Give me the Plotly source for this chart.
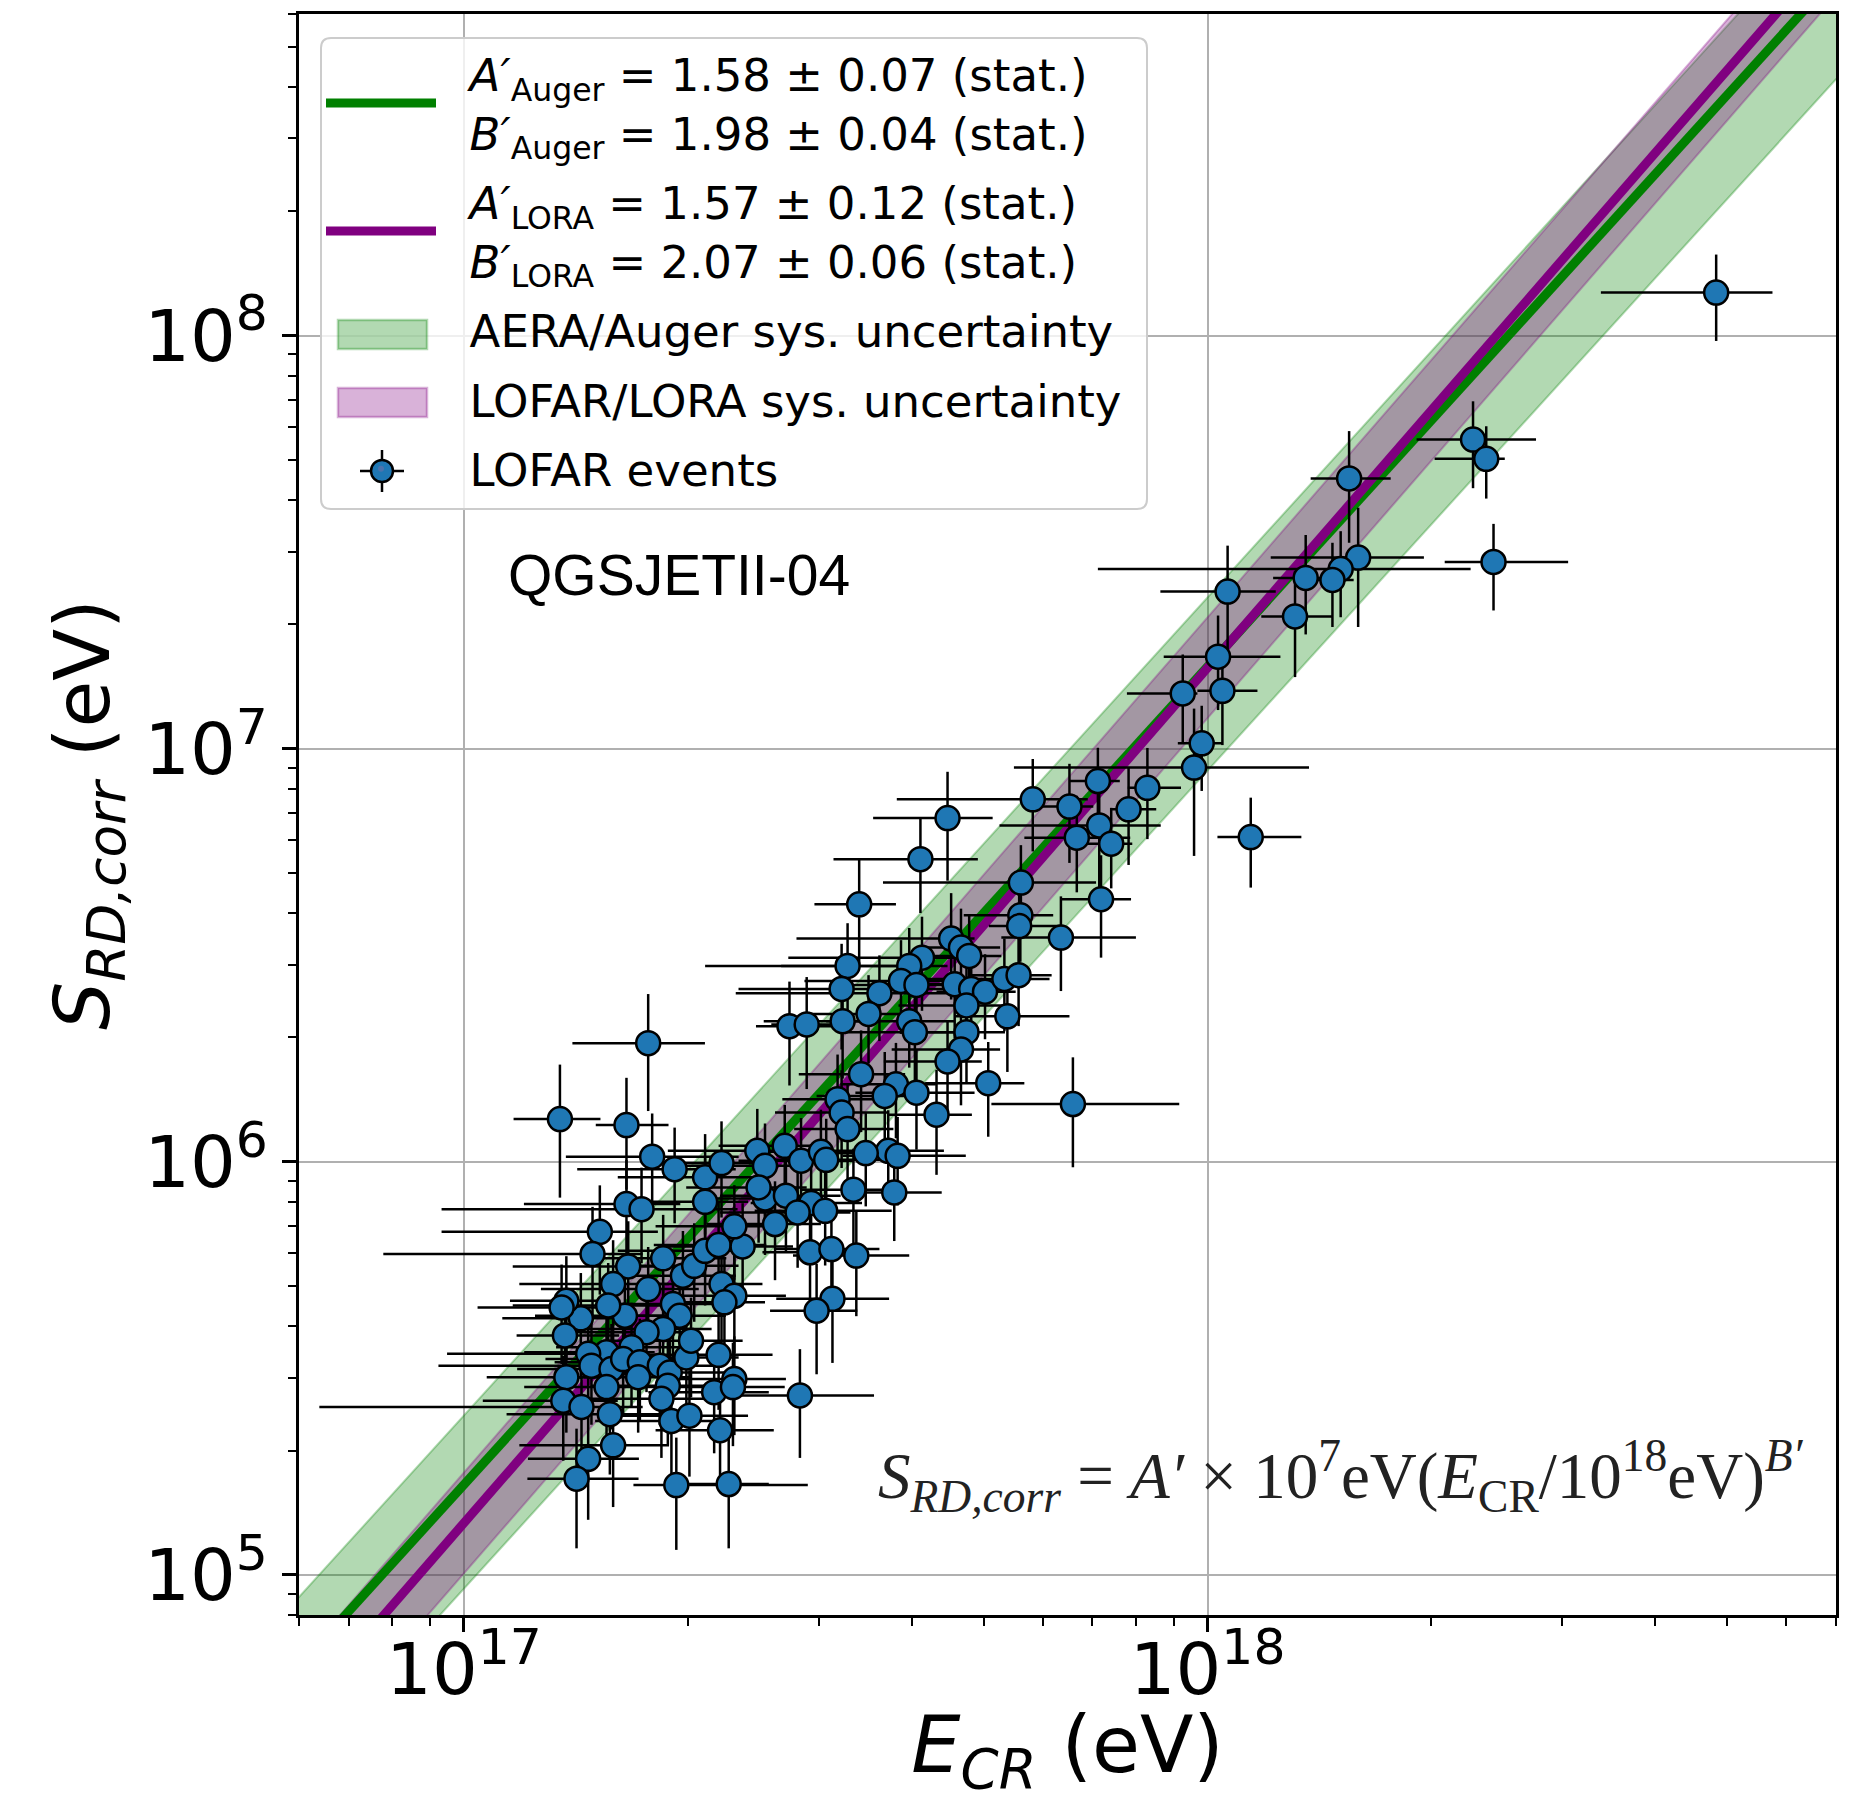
import numpy as np
import plotly.graph_objects as go

# ---- fit parameters: S = A' x 1e7 eV (E / 1e18 eV)^B' ----
A_AUGER, B_AUGER = 1.58, 1.98
A_LORA, B_LORA = 1.57, 2.07
AUGER_SYS_UP, AUGER_SYS_DN = 1.47, 0.56   # AERA/Auger systematic band (factor on S)
LORA_SYS_DEX = 0.122                      # LOFAR/LORA systematic band (+/- decades in S)

# ---- LOFAR events: energy in 1e17 eV, radiation energy in 1e6 eV ----
energy = [
    48.3, 22.75, 23.7, 24.24, 15.5, 15.94, 15.1, 14.72, 13.55, 13.11,
    10.64, 10.33, 9.26, 10.47, 9.82, 9.59, 11.43, 7.12, 8.30, 5.82,
    6.52, 7.83, 7.15, 6.67, 7.42, 4.47, 7.19, 6.35, 4.11, 5.61,
    5.60, 5.58, 4.52, 4.66, 4.78, 4.13, 3.97, 3.87, 4.06, 3.62,
    4.57, 4.81, 5.02, 5.33, 5.57, 4.74, 5.38, 3.97, 4.04, 4.74,
    4.66, 4.47, 5.07, 6.59, 3.81, 4.06, 4.32, 3.72, 3.83, 3.79,
    3.40, 3.28, 3.22, 3.23, 2.74, 2.89, 3.50, 3.42, 3.18, 3.22,
    3.28, 3.68, 1.769, 1.346, 1.654, 1.791, 1.92, 2.11, 2.22, 2.11,
    1.654, 1.733, 1.523, 1.489, 1.663, 1.853, 1.587, 1.769, 1.97, 2.04,
    2.11, 2.20, 2.37, 2.31, 2.48, 2.54, 2.70, 2.84, 3.02, 3.07,
    3.47, 3.34, 2.54, 2.49, 2.71, 2.93, 3.06, 2.81, 2.62, 2.92,
    3.12, 3.37, 3.13, 2.98, 2.22, 2.31, 2.24, 1.91, 1.95, 1.646,
    1.563, 1.436, 1.373, 1.353, 1.367, 1.853, 1.76, 1.68, 1.555, 1.469,
    1.484, 1.579, 1.637, 1.724, 1.834, 1.891, 1.991, 2.02, 2.20, 2.31,
    2.17, 2.30, 1.88, 1.715, 1.555, 1.373, 1.36, 1.439, 1.571, 1.843,
    1.901, 2.01, 2.21, 2.83, 1.587, 1.469, 1.417, 1.93, 2.27,
]
energy_err_lo = [
    14.5, 3.65, 3.5, 3.4, 1.74, 3.78, 7.98, 0.8, 1.3, 1.3,
    2.0, 1.6, 1.47, 0.78, 0.7, 4.1, 1.12, 0.6, 0.49, 2.0,
    0.6, 0.4, 1.9, 1.0, 0.6, 0.92, 0.84, 1.07, 0.97, 1.95,
    0.9, 0.5, 1.72, 0.5, 0.6, 1.4, 1.3, 1.0, 0.8, 1.3,
    0.7, 0.6, 0.7, 1.2, 0.8, 0.9, 0.8, 0.9, 0.8, 0.7,
    0.9, 0.8, 0.9, 1.47, 0.6, 0.7, 0.6, 0.9, 0.6, 0.5,
    0.44, 1.17, 0.88, 0.7, 0.27, 0.3, 0.6, 0.6, 0.5, 0.6,
    0.5, 0.7, 0.37, 0.18, 0.15, 0.42, 0.5, 0.5, 0.4, 0.5,
    0.45, 0.8, 0.59, 0.71, 0.5, 0.4, 0.4, 0.5, 0.4, 0.4,
    0.5, 0.4, 0.5, 0.5, 0.6, 0.6, 0.5, 0.5, 0.5, 0.6,
    0.6, 0.5, 0.4, 0.5, 0.5, 0.5, 0.6, 0.6, 0.5, 0.4,
    0.5, 0.6, 0.5, 0.4, 0.4, 0.4, 0.4, 0.4, 0.4, 0.4,
    0.4, 0.31, 0.22, 0.31, 0.19, 0.4, 0.35, 0.35, 0.35, 0.52,
    0.56, 0.4, 0.35, 0.4, 0.4, 0.4, 0.4, 0.45, 0.45, 0.45,
    0.4, 0.45, 0.4, 0.4, 0.35, 0.3, 0.3, 0.8, 0.43, 0.4,
    0.4, 0.45, 0.4, 0.49, 0.4, 0.25, 0.2, 0.24, 0.35,
]
energy_err_hi = [
    9.2, 4.9, 1.4, 6.3, 2.13, 3.6, 7.48, 1.0, 0.9, 1.6,
    1.71, 2.2, 0.43, 1.2, 0.65, 4.1, 1.94, 0.5, 0.91, 1.08,
    0.5, 0.7, 1.5, 1.2, 0.5, 0.67, 0.7, 1.66, 0.8, 1.47,
    0.6, 0.8, 0.34, 0.6, 0.5, 0.6, 0.5, 0.7, 0.5, 0.9,
    0.5, 0.6, 0.5, 0.8, 0.6, 0.7, 1.14, 0.6, 0.7, 0.6,
    0.6, 0.5, 0.6, 2.57, 0.5, 0.8, 0.5, 0.7, 0.9, 0.6,
    0.41, 0.59, 0.42, 0.4, 0.38, 0.3, 0.4, 0.5, 0.4, 0.5,
    0.5, 0.5, 0.34, 0.18, 0.23, 0.55, 0.4, 0.4, 0.3, 0.3,
    0.3, 0.6, 0.3, 0.25, 0.3, 0.4, 0.3, 0.3, 0.35, 0.3,
    0.35, 0.35, 0.4, 0.35, 0.4, 0.4, 0.4, 0.5, 0.5, 0.6,
    0.5, 0.6, 0.5, 0.4, 0.5, 0.5, 0.7, 0.5, 0.4, 0.5,
    0.5, 0.6, 0.6, 0.4, 0.3, 0.4, 0.3, 0.3, 0.3, 0.3,
    0.3, 0.25, 0.25, 0.2, 0.25, 0.3, 0.3, 0.3, 0.25, 0.25,
    0.25, 0.3, 0.3, 0.3, 0.35, 0.35, 0.35, 0.35, 0.4, 0.4,
    0.4, 0.4, 0.3, 0.3, 0.3, 0.25, 0.25, 0.3, 0.3, 0.35,
    0.35, 0.4, 0.4, 0.73, 0.3, 0.25, 0.3, 0.97, 0.3,
]
signal = [
    127, 56.0, 50.3, 28.3, 45.1, 29.0, 27.2, 25.6, 25.9, 20.9,
    24.0, 16.7, 13.6, 13.8, 10.3, 9.0, 6.11, 8.35, 8.04, 7.54,
    7.24, 7.13, 6.52, 6.09, 5.89, 6.79, 4.32, 3.49, 5.40, 4.74,
    3.95, 3.72, 3.47, 3.30, 3.15, 3.12, 2.98, 2.74, 2.68, 2.56,
    2.69, 2.62, 2.58, 2.77, 2.83, 2.39, 2.25, 2.19, 2.06, 2.06,
    1.87, 1.75, 1.55, 1.38, 1.54, 1.47, 1.30, 1.063, 1.034, 0.843,
    4.20, 2.98, 2.62, 2.19, 2.13, 2.15, 2.28, 1.63, 1.418, 1.316,
    1.20, 1.444, 1.937, 1.269, 1.227, 1.029, 0.960, 0.917, 0.993, 0.800,
    0.790, 0.768, 0.677, 0.598, 0.558, 0.584, 0.506, 0.492, 0.530, 0.560,
    0.609, 0.629, 0.624, 0.698, 1.063, 0.978, 1.093, 1.006, 1.057, 1.011,
    1.05, 0.856, 0.815, 0.867, 0.828, 0.795, 0.761, 0.754, 0.707, 0.604,
    0.615, 0.593, 0.466, 0.436, 0.506, 0.474, 0.457, 0.453, 0.424, 0.424,
    0.449, 0.418, 0.461, 0.444, 0.380, 0.394, 0.387, 0.356, 0.346, 0.343,
    0.321, 0.315, 0.333, 0.327, 0.321, 0.309, 0.336, 0.369, 0.341, 0.298,
    0.277, 0.285, 0.287, 0.301, 0.285, 0.301, 0.264, 0.255, 0.245, 0.267,
    0.236, 0.243, 0.224, 0.272, 0.206, 0.191, 0.171, 0.165, 0.166,
]
signal_err = [
    30, 13.3, 10, 6.7, 13.6, 9.3, 6.4, 5.9, 7.0, 6.0,
    7.0, 4.3, 3.3, 3.6, 2.4, 3.5, 1.5, 1.7, 2.0, 1.9,
    1.95, 1.9, 2.0, 1.6, 1.3, 2.0, 1.2, 0.9, 1.4, 1.1,
    0.9, 0.9, 1.0, 0.8, 0.8, 0.8, 0.7, 0.7, 0.6, 0.6,
    0.7, 0.6, 0.6, 0.7, 0.7, 0.6, 0.6, 0.5, 0.5, 0.5,
    0.5, 0.45, 0.4, 0.41, 0.4, 0.4, 0.37, 0.27, 0.25, 0.2,
    1.2, 0.8, 0.75, 0.6, 0.6, 0.65, 0.55, 0.45, 0.4, 0.35,
    0.35, 0.4, 0.61, 0.45, 0.37, 0.28, 0.25, 0.25, 0.26, 0.22,
    0.22, 0.2, 0.2, 0.18, 0.16, 0.16, 0.14, 0.13, 0.15, 0.15,
    0.16, 0.17, 0.17, 0.18, 0.28, 0.26, 0.28, 0.27, 0.28, 0.26,
    0.27, 0.22, 0.22, 0.23, 0.22, 0.21, 0.2, 0.2, 0.19, 0.17,
    0.17, 0.17, 0.14, 0.13, 0.14, 0.13, 0.13, 0.13, 0.12, 0.12,
    0.12, 0.12, 0.13, 0.12, 0.11, 0.11, 0.11, 0.1, 0.1, 0.1,
    0.09, 0.09, 0.09, 0.09, 0.09, 0.09, 0.09, 0.1, 0.09, 0.08,
    0.08, 0.08, 0.08, 0.08, 0.08, 0.08, 0.075, 0.07, 0.07, 0.075,
    0.07, 0.07, 0.065, 0.08, 0.06, 0.055, 0.055, 0.05, 0.05,
]

x_ticks = [1e17, 1e18]
x_ticktext = ["10<sup>17</sup>", "10<sup>18</sup>"]
y_ticks = [1e5, 1e6, 1e7, 1e8]
y_ticktext = ["10<sup>5</sup>", "10<sup>6</sup>", "10<sup>7</sup>", "10<sup>8</sup>"]

E_UNIT, S_UNIT = 1e17, 1e6
E = np.array(energy) * E_UNIT
S = np.array(signal) * S_UNIT
E_lo = np.array(energy_err_lo) * E_UNIT
E_hi = np.array(energy_err_hi) * E_UNIT
S_err = np.array(signal_err) * S_UNIT


def radiation_energy(e, a, b):
    return a * 1e7 * (e / 1e18) ** b


e_grid = np.logspace(16.5, 19.1, 80)
s_auger = radiation_energy(e_grid, A_AUGER, B_AUGER)
s_lora = radiation_energy(e_grid, A_LORA, B_LORA)

auger_up = s_auger * AUGER_SYS_UP
auger_dn = s_auger * AUGER_SYS_DN
lora_up = s_lora * 10 ** LORA_SYS_DEX
lora_dn = s_lora * 10 ** (-LORA_SYS_DEX)

band_x = np.concatenate([e_grid, e_grid[::-1]])

GREEN_FILL = "rgba(0,128,0,0.3)"
PURPLE_FILL = "rgba(128,0,128,0.3)"
MARKER_BLUE = "#1f77b4"
PAD = "\u00a0\u00a0"   # gap between legend key and label

# ---- figure / plot-area geometry in pixels (used for the legend frame) ----
FIG_W, FIG_H = 1849, 1801
M_L, M_R, M_T, M_B = 299, 13, 14, 186
PLOT_W, PLOT_H = FIG_W - M_L - M_R, FIG_H - M_T - M_B


def px_x(p):
    return (p - M_L) / PLOT_W


def px_y(p):
    return (FIG_H - M_B - p) / PLOT_H


def rounded_box(x0, y0, x1, y1, r):
    """Rounded rectangle path in paper units from pixel corners (top-left, bottom-right)."""
    a, b, c, d = px_x(x0), px_y(y1), px_x(x1), px_y(y0)
    rx, ry = r / PLOT_W, r / PLOT_H
    return (f"M{a + rx},{b} L{c - rx},{b} Q{c},{b} {c},{b + ry} "
            f"L{c},{d - ry} Q{c},{d} {c - rx},{d} L{a + rx},{d} "
            f"Q{a},{d} {a},{d - ry} L{a},{b + ry} Q{a},{b} {a + rx},{b} Z")


fig = go.Figure()

# systematic bands
fig.add_trace(go.Scatter(
    x=band_x, y=np.concatenate([auger_up, auger_dn[::-1]]),
    fill="toself", fillcolor=GREEN_FILL, line=dict(color=GREEN_FILL, width=2),
    mode="lines", showlegend=False, hoverinfo="skip",
))
fig.add_trace(go.Scatter(
    x=band_x, y=np.concatenate([lora_up, lora_dn[::-1]]),
    fill="toself", fillcolor=PURPLE_FILL, line=dict(color=PURPLE_FILL, width=2),
    mode="lines", showlegend=False, hoverinfo="skip",
))

# fit lines
fig.add_trace(go.Scatter(
    x=e_grid, y=s_auger, mode="lines", line=dict(color="green", width=9),
    name=(PAD + "<i>A′</i><sub>Auger</sub> = 1.58 ± 0.07 (stat.)<br>" + PAD +
          "<i>B′</i><sub>Auger</sub> = 1.98 ± 0.04 (stat.)"),
    legendrank=1, legendgroup="g1",
))
fig.add_trace(go.Scatter(
    x=e_grid, y=s_lora, mode="lines", line=dict(color="purple", width=9),
    name=(PAD + "<i>A′</i><sub>LORA</sub> = 1.57 ± 0.12 (stat.)<br>" + PAD +
          "<i>B′</i><sub>LORA</sub> = 2.07 ± 0.06 (stat.)"),
    legendrank=2, legendgroup="g2",
))

# legend-only entries (their keys are drawn as shapes below)
fig.add_trace(go.Scatter(
    x=[None], y=[None], mode="lines", line=dict(color="rgba(0,0,0,0)", width=0),
    name=PAD + "AERA/Auger sys. uncertainty", legendrank=3, legendgroup="g3",
))
fig.add_trace(go.Scatter(
    x=[None], y=[None], mode="lines", line=dict(color="rgba(0,0,0,0)", width=0),
    name=PAD + "LOFAR/LORA sys. uncertainty", legendrank=4, legendgroup="g4",
))
fig.add_trace(go.Scatter(
    x=[None], y=[None], mode="markers", marker=dict(opacity=0),
    name=PAD + "LOFAR events", legendrank=5, legendgroup="g5",
))

# events
fig.add_trace(go.Scatter(
    x=E, y=S, mode="markers", showlegend=False,
    marker=dict(size=24, color=MARKER_BLUE, line=dict(color="black", width=2.5)),
    error_x=dict(type="data", array=E_hi, arrayminus=E_lo, symmetric=False,
                 color="black", thickness=2.5, width=0),
    error_y=dict(type="data", array=S_err, color="black", thickness=2.5, width=0),
))

# legend frame and keys for the bands / events
legend_shapes = [
    dict(type="path", path=rounded_box(321, 38, 1147, 509, 10),
         fillcolor="rgba(255,255,255,0.8)", line=dict(color="#cccccc", width=2)),
    dict(type="rect", x0=px_x(338), x1=px_x(427), y0=px_y(349), y1=px_y(320),
         fillcolor=GREEN_FILL, line=dict(color=GREEN_FILL, width=2.5)),
    dict(type="rect", x0=px_x(338), x1=px_x(427), y0=px_y(417), y1=px_y(388),
         fillcolor=PURPLE_FILL, line=dict(color=PURPLE_FILL, width=2.5)),
    dict(type="line", x0=px_x(360), x1=px_x(404), y0=px_y(471), y1=px_y(471),
         line=dict(color="black", width=2.5)),
    dict(type="line", x0=px_x(382), x1=px_x(382), y0=px_y(450), y1=px_y(492),
         line=dict(color="black", width=2.5)),
    dict(type="circle", x0=px_x(371), x1=px_x(393), y0=px_y(482), y1=px_y(460),
         fillcolor=MARKER_BLUE, line=dict(color="black", width=2.5)),
]
for s in legend_shapes:
    s.update(xref="paper", yref="paper", layer="above")

axis_common = dict(
    type="log", tickmode="array", ticks="outside", ticklen=14, tickwidth=2.5,
    tickcolor="black", showgrid=True, gridcolor="#b0b0b0", gridwidth=2,
    showline=True, linecolor="black", linewidth=2.5, mirror=True,
    zeroline=False, automargin=False, tickfont=dict(size=72, color="black"),
    minor=dict(ticks="outside", ticklen=8, tickwidth=2, tickcolor="black",
               dtick="D1", showgrid=False),
)

fig.update_layout(
    width=FIG_W, height=FIG_H,
    margin=dict(l=M_L, r=M_R, t=M_T, b=M_B),
    paper_bgcolor="white", plot_bgcolor="white",
    font=dict(family="DejaVu Sans", color="black"),
    xaxis=dict(
        axis_common, range=[np.log10(6e16), np.log10(7e18)],
        tickvals=x_ticks, ticktext=x_ticktext, ticklabelstandoff=-24,
        title=dict(text="<i>E</i><sub><i>CR</i></sub> (eV)",
                   font=dict(size=78), standoff=56),
    ),
    yaxis=dict(
        axis_common, range=[np.log10(8e4), np.log10(6e8)],
        tickvals=y_ticks, ticktext=y_ticktext,
        title=dict(text="<i>S</i><sub><i>RD,corr</i></sub> (eV)",
                   font=dict(size=76), standoff=10),
    ),
    legend=dict(
        x=px_x(321), y=px_y(38), xanchor="left", yanchor="top",
        bgcolor="rgba(0,0,0,0)", borderwidth=0,
        font=dict(family="DejaVu Sans", size=45, color="black"),
        itemwidth=110, valign="middle", traceorder="grouped", tracegroupgap=8,
    ),
    showlegend=True,
    shapes=legend_shapes,
    annotations=[
        dict(text="QGSJETII-04", xref="paper", yref="paper", x=0.2472, y=0.6496,
             xanchor="center", yanchor="middle", showarrow=False,
             font=dict(family="Liberation Sans", size=57, color="black")),
        dict(text=("<i>S</i><sub><i>RD,corr</i></sub> = <i>A′</i> × 10<sup>7</sup>eV"
                   "(<i>E</i><sub>CR</sub>/10<sup>18</sup>eV)<sup><i>B′</i></sup>"),
             xref="paper", yref="paper", x=0.678, y=0.0868,
             xanchor="center", yanchor="middle", showarrow=False,
             font=dict(family="Liberation Serif", size=65, color="#222222")),
    ],
)

fig.write_html("out.html")
